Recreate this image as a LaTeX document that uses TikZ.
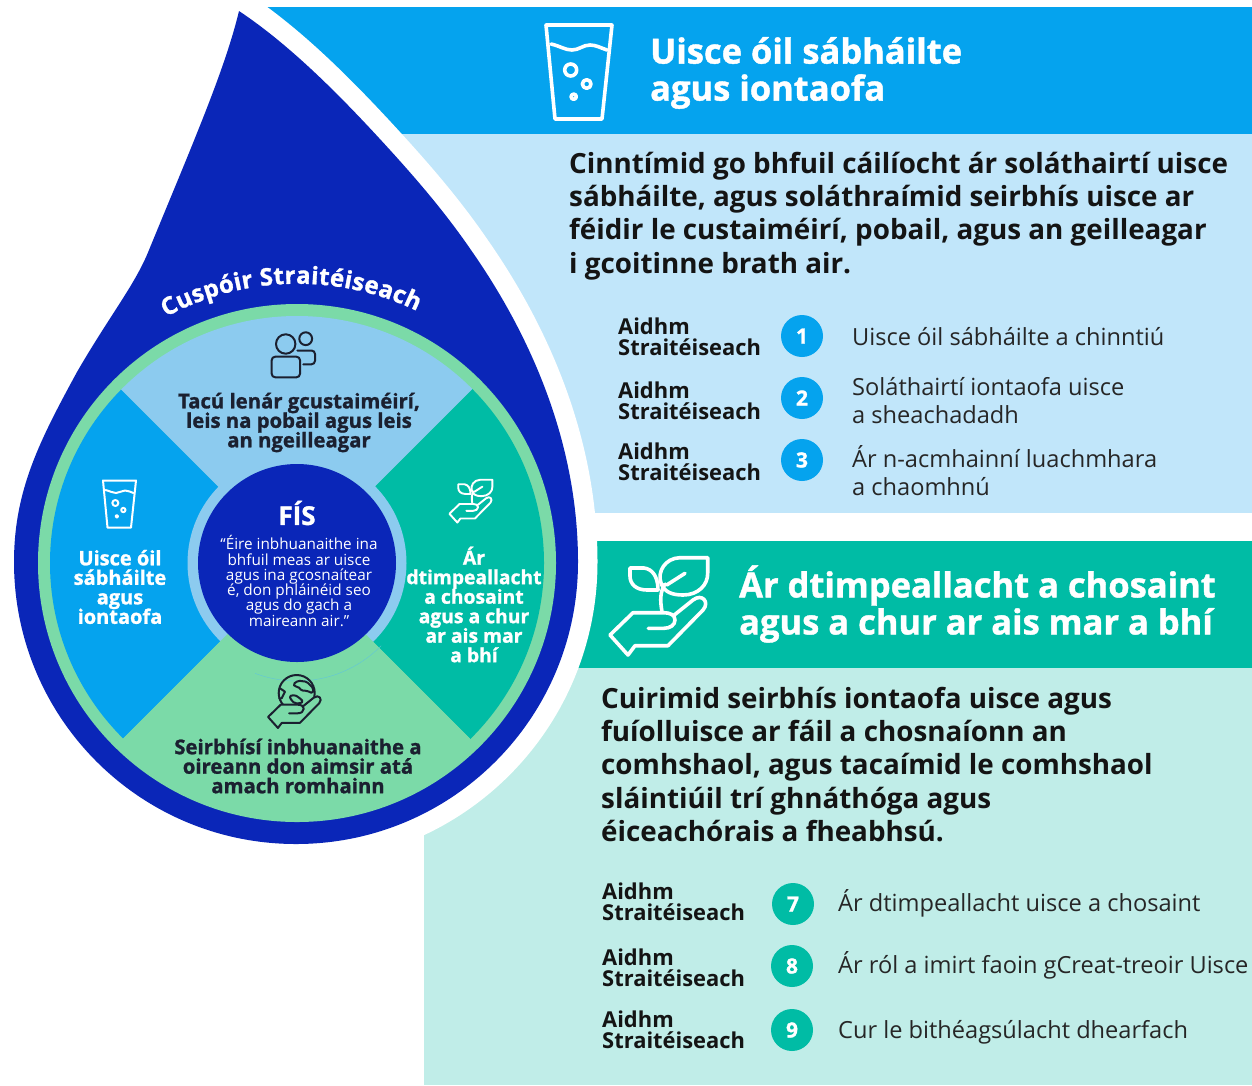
\documentclass[tikz,border=0pt]{standalone}
\usepackage{fontspec}
\usetikzlibrary{decorations.text}
\setmainfont{Open Sans}
\newfontfamily\heavyfont{Open Sans}[BoldFeatures={FakeBold=1.2}]
\lineskiplimit=-100pt
\definecolor{dropblue}{HTML}{0A26B8}
\definecolor{brightblue}{HTML}{05A3EE}
\definecolor{paleblue}{HTML}{C1E6FA}
\definecolor{skyblue}{HTML}{8CCBEF}
\definecolor{teal}{HTML}{00BCA5}
\definecolor{mint}{HTML}{7BDAA8}
\definecolor{paleteal}{HTML}{C0EDE8}
\definecolor{inkdark}{HTML}{1B2030}
\newcommand{\droppath}{(239,11) .. controls (290,45) and (340,95) .. (390,150) .. controls (420,183) and (447,215) .. (471,250) .. controls (520,320) and (578,430) .. (578,562) .. controls (578,718) and (452,844) .. (296,844) .. controls (140,844) and (14,718) .. (14,562) .. controls (14,490) and (40,440) .. (77,372) .. controls (110,315) and (135,285) .. (149,250) .. controls (190,150) and (225,70) .. (239,11) -- cycle}
\newcommand{\handpath}{(648.3,628.3) -- (664,628.3) .. controls (670,628.3) and (675,625) .. (675,620) .. controls (675,615) and (670,612.7) .. (664,612.7) -- (633,612.7) -- (610,635) -- (628,655) -- (635,645.7) -- (668,645.7) -- (703,610) .. controls (710,602) and (702,593) .. (693,600) -- (673,616)}
\newcommand{\planticon}[4]{%
 \begin{scope}[shift={(#1,#2)},scale=#3,shift={(-659,-606)},draw=white,line width=#4,line join=round,line cap=round]
  \draw \handpath;
  \draw (707.7,557.7) -- (680,557.7) .. controls (665,558) and (657,572) .. (661,583) .. controls (664,592) and (672,595) .. (683,595) .. controls (698,595) and (708,585) .. (707.7,573) -- cycle;
  \draw (666.7,585) -- (685,573.3);
  \draw (630,568) -- (644,568) .. controls (652,569) and (658,576) .. (658,590) -- (647,590) .. controls (636,590) and (630,584) .. (630,576) -- cycle;
  \draw (662,611.7) .. controls (660,600) and (660,592) .. (665,584);
 \end{scope}}
\newcommand{\glassicon}[4]{%
 \begin{scope}[shift={(#1,#2)},scale=#3,shift={(-579,-71)},draw=white,line width=#4,line join=round,line cap=round]
  \draw (546,24) -- (612,24) -- (602,118) -- (555,118) -- cycle;
  \draw (551,43) .. controls (560,45) and (565,49) .. (572,49) .. controls (579,49) and (583,44) .. (590,44) .. controls (596,44) and (601,47) .. (607,49);
  \draw (570.7,69) circle (6);
  \draw (586.7,83) circle (4.3);
  \draw (573.7,95.7) circle (2.6);
 \end{scope}}
\tikzset{
 leftline/.style={anchor=west,inner sep=0pt,align=left},
 headtext/.style={leftline,text=white,font={\heavyfont\bfseries\fontsize{34.5}{37}\selectfont}},
 bodytext/.style={leftline,text=black!92,font={\bfseries\fontsize{27.8}{33.2}\selectfont}},
 aimlabel/.style={leftline,text=black!92,font={\bfseries\fontsize{21.9}{21}\selectfont}},
 aimtext/.style={leftline,text=black!85,font={\fontsize{23.6}{28}\selectfont}},
 numdisc/.style={circle,minimum size=42pt,inner sep=0pt,text=white,font={\heavyfont\bfseries\fontsize{21}{21}\selectfont}},
 petal/.style={align=center,inner sep=0pt,font={\heavyfont\bfseries\fontsize{20.3}{19.5}\selectfont}},
 petalleft/.style={align=center,inner sep=0pt,font={\heavyfont\bfseries\fontsize{20}{19.5}\selectfont}},
 petalright/.style={align=center,inner sep=0pt,font={\heavyfont\bfseries\fontsize{19.3}{19.5}\selectfont}},
}
\begin{document}
\begin{tikzpicture}[x=1pt,y=-1pt]
\useasboundingbox (0,0) rectangle (1252,1085);
\fill[white] (0,0) rectangle (1252,1085);
% panels
\fill[brightblue] (245,7) rectangle (1252,134);
\fill[paleblue] (380,134) rectangle (1252,513);
\fill[teal] (560,541) rectangle (1252,668);
\fill[paleteal] (424,668) rectangle (1252,1085);
% drop
\draw[white,line width=39pt,line join=round] \droppath;
\fill[dropblue] \droppath;
% wheel
\fill[mint] (297,563) circle (259);
\begin{scope}
 \clip (297,563) circle (247);
 \fill[skyblue] (296.5,565) -- (-3.5,265) -- (596.5,265) -- cycle;
 \fill[brightblue] (296.5,565) -- (-3.5,265) -- (-3.5,865) -- cycle;
 \fill[teal] (296.5,565) -- (596.5,265) -- (596.5,865) -- cycle;
 \fill[skyblue] (297,563) circle (109.5);
 \fill[mint] (296.5,565) -- (-3.5,865) -- (596.5,865) -- cycle;
\end{scope}
\begin{scope}
 \clip (255,640) rectangle (381,690);
 \draw[skyblue!70!teal,line width=0.4pt] (297,563) circle (118);
\end{scope}
\fill[dropblue] (297,563) circle (99);
% curved title
\path[postaction={decorate,decoration={text along path,text align={fit to path},text={|\heavyfont\bfseries\fontsize{24}{24}\selectfont\color{white}|Cuspóir Straitéiseach}}}] (166,317) .. controls (243,275) and (338,272.5) .. (417,311);
% wheel texts
\node[text=white,inner sep=0pt,font={\heavyfont\bfseries\fontsize{26}{26}\selectfont}] (fis) at (297,513) {FÍS};
\node[text=white,align=center,inner sep=0pt,font={\fontsize{15.3}{15.3}\selectfont}] (fisq) at (299,581) {“Éire inbhuanaithe ina\\bhfuil meas ar uisce\\agus ina gcosnaítear\\é, don phláinéid seo\\agus do gach a\\maireann air.”};
\node[petal,text=inkdark] (ptop) at (299,422.5) {Tacú lenár gcustaiméirí,\\leis na pobail agus leis\\an ngeilleagar};
\node[petalleft,text=white] (pleft) at (120,587) {Uisce óil\\sábháilte\\agus\\iontaofa};
\node[petalright,text=white] (pright) at (474,604.5) {Ár\\dtimpeallacht\\a chosaint\\agus a chur\\ar ais mar\\a bhí};
\node[petal,text=inkdark] (pbot) at (298,766) {Seirbhísí inbhuanaithe a\\oireann don aimsir atá\\amach romhainn};
% small icons
\glassicon{119.5}{504}{0.5}{2pt}
\planticon{471}{501}{0.44}{1.9pt}
\begin{scope}[draw=inkdark,line width=2pt,line join=round,line cap=round]
 \draw (285.7,344) circle (9.7);
 \draw (305.7,338.7) circle (6.4);
 \draw[rounded corners=3.5pt] (271.7,356.7) rectangle (300,377.3);
 \draw[rounded corners=3.5pt] (297.3,350.5) -- (315,350.5) -- (315,364.3) -- (303.3,364.3);
\end{scope}
\begin{scope}[draw=inkdark,line width=2pt,line join=round,line cap=round]
 \draw (296.7,693) circle (18);
 \draw[rounded corners=1.5pt] (293.3,684) -- (298.3,680.7) -- (306.7,681.7) -- (313.3,688.3) -- (312.7,693.3) -- (306.7,690.7) -- (301.7,690.7) -- (298.3,686.7) -- (295,686.7) -- cycle;
 \draw[rounded corners=1.5pt] (289.3,696) -- (295,695) -- (300,698.3) -- (303.3,701.7) -- (300,703.3) -- (295,703.3) -- (291.7,700.7) -- cycle;
 \draw (280,688.3) -- (285,691.7) -- (281.7,698.3) -- (279.3,698.3);
 \begin{scope}[shift={(295,701)},scale=0.55,shift={(-659,-606)},line width=2pt]
  \fill[mint] \handpath -- cycle;
  \draw \handpath;
 \end{scope}
\end{scope}
% upper panel
\glassicon{579}{72}{1}{3.6pt}
\node[headtext] (h1) at (650,73) {Uisce óil sábháilte\\agus iontaofa};
\node[bodytext] (b1) at (569,216) {Cinntímid go bhfuil cáilíocht ár soláthairtí uisce\\sábháilte, agus soláthraímid seirbhís uisce ar\\féidir le custaiméirí, pobail, agus an geilleagar\\i gcoitinne brath air.};
\node[aimlabel] (a1) at (618,337) {Aidhm\\Straitéiseach};
\node[aimlabel] (a2) at (618,401) {Aidhm\\Straitéiseach};
\node[aimlabel] (a3) at (618,462) {Aidhm\\Straitéiseach};
\node[numdisc,fill=brightblue] (n1) at (802,336) {1};
\node[numdisc,fill=brightblue] (n2) at (802,398) {2};
\node[numdisc,fill=brightblue] (n3) at (802,460) {3};
\node[aimtext] (t1) at (852,337) {Uisce óil sábháilte a chinntiú};
\node[aimtext] (t2) at (852,401) {Soláthairtí iontaofa uisce\\a sheachadadh};
\node[aimtext] (t3) at (852,471) {Ár n-acmhainní luachmhara\\a chaomhnú};
% lower panel
\planticon{659}{606}{1}{3.6pt}
\node[headtext] (h2) at (739,604) {Ár dtimpeallacht a chosaint\\agus a chur ar ais mar a bhí};
\node[bodytext] (b2) at (601,764.5) {Cuirimid seirbhís iontaofa uisce agus\\fuíolluisce ar fáil a chosnaíonn an\\comhshaol, agus tacaímid le comhshaol\\sláintiúil trí ghnáthóga agus\\éiceachórais a fheabhsú.};
\node[aimlabel] (a7) at (602,902) {Aidhm\\Straitéiseach};
\node[aimlabel] (a8) at (602,968) {Aidhm\\Straitéiseach};
\node[aimlabel] (a9) at (602,1030) {Aidhm\\Straitéiseach};
\node[numdisc,fill=teal] (n7) at (793,904) {7};
\node[numdisc,fill=teal] (n8) at (792,966) {8};
\node[numdisc,fill=teal] (n9) at (792,1030) {9};
\node[aimtext] (t7) at (838,903) {Ár dtimpeallacht uisce a chosaint};
\node[aimtext] (t8) at (838,965) {Ár ról a imirt faoin gCreat-treoir Uisce};
\node[aimtext] (t9) at (838,1032) {Cur le bithéagsúlacht dhearfach};
\end{tikzpicture}
\end{document}
